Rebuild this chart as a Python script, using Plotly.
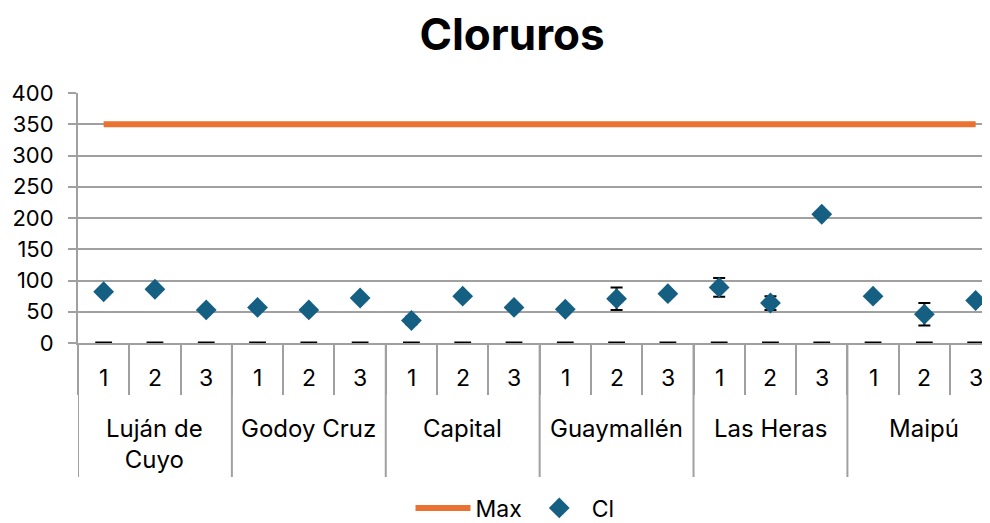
import plotly.graph_objects as go

groups = ["Luján de<br>Cuyo", "Godoy Cruz", "Capital", "Guaymallén", "Las Heras", "Maipú"]
subs = ["1", "2", "3"]
cl_values = [82, 86, 53, 57, 53, 72, 36, 75, 57, 54, 71, 79, 89, 64, 206, 75, 46, 68]
cl_errors = [3, 3, 3, 3, 3, 3, 6, 3, 3, 3, 18, 3, 15, 11, 3, 3, 18, 3]
max_value = 350
zero_values = [0] * 18
y_ticks = [0, 50, 100, 150, 200, 250, 300, 350, 400]

cats = [f"{g.replace('<br>', ' ')} {s}" for g in groups for s in subs]
n = len(cats)

FONT = "Inter"
GRID = "#a0a0a0"

# the page body has an 8px margin; the figure is sized so it ends at the window edge
OFF = 8
W, H = 990 - OFF, 523 - OFF
PLOT_H = 250.0


def py(px_below_axis):
    return -px_below_axis / PLOT_H


fig = go.Figure()
fig.add_trace(go.Scatter(
    x=cats, y=zero_values, mode="markers", showlegend=False, hoverinfo="skip",
    marker=dict(symbol="line-ew", size=12, line=dict(color="black", width=3)),
))
fig.add_trace(go.Scatter(
    x=cats, y=[max_value] * n, mode="lines", name="Max",
    line=dict(color="#E97132", width=6),
))
fig.add_trace(go.Scatter(
    x=cats, y=cl_values, mode="markers", name="Cl",
    marker=dict(symbol="diamond", size=16, color="#156082"),
    error_y=dict(type="data", array=cl_errors, visible=True, color="black", thickness=2, width=6),
))

annotations = []
shapes = []
for i, c in enumerate(cats):
    annotations.append(dict(x=i, y=py(35), xref="x", yref="paper", text=subs[i % 3],
                            showarrow=False, font=dict(family=FONT, size=23, color="black"),
                            xanchor="center", yanchor="middle"))
for gi, g in enumerate(groups):
    center = gi * 3 + 1
    ycen = py(101) if "<br>" in g else py(85)
    annotations.append(dict(x=center, y=ycen, xref="x", yref="paper", text=g,
                            showarrow=False, font=dict(family=FONT, size=24, color="black"),
                            xanchor="center", yanchor="middle", align="center"))
for b in range(len(groups) + 1):
    xb = b * 3 - 0.5
    shapes.append(dict(type="line", xref="x", yref="paper", x0=xb, x1=xb, y0=0, y1=py(134),
                       line=dict(color=GRID, width=2)))

fig.update_layout(
    width=W, height=H,
    margin=dict(l=78 - OFF, r=0, t=93 - OFF, b=523 - 343, autoexpand=False),
    paper_bgcolor="white", plot_bgcolor="white",
    font=dict(family=FONT, size=22, color="black"),
    title=dict(text="<b>Cloruros</b>", x=(512 - OFF) / W, xanchor="center", xref="container",
               y=1 - (35 - OFF) / H, yanchor="middle", yref="container",
               font=dict(family=FONT, size=44, color="black")),
    showlegend=True,
    legend=dict(orientation="h", x=(515 - 78) / (990 - 78), xanchor="center", y=py(165),
                yanchor="middle", font=dict(size=23), itemwidth=55, traceorder="normal"),
    annotations=annotations,
    shapes=shapes,
)
fig.update_yaxes(
    range=[0, 400], tickvals=y_ticks, showgrid=True, gridcolor=GRID, gridwidth=2,
    showline=True, linecolor=GRID, linewidth=2,
    ticks="outside", ticklen=8, tickcolor=GRID, tickwidth=2,
    ticklabelstandoff=10, automargin=False,
    zeroline=False, tickfont=dict(size=22),
)
fig.update_xaxes(
    type="category", range=[-0.5, n - 0.72], showgrid=False, showline=True,
    linecolor=GRID, linewidth=2, showticklabels=False,
    ticks="outside", tickson="boundaries", ticklen=50, tickcolor=GRID, tickwidth=2,
    automargin=False,
)

fig.write_html("out.html")
